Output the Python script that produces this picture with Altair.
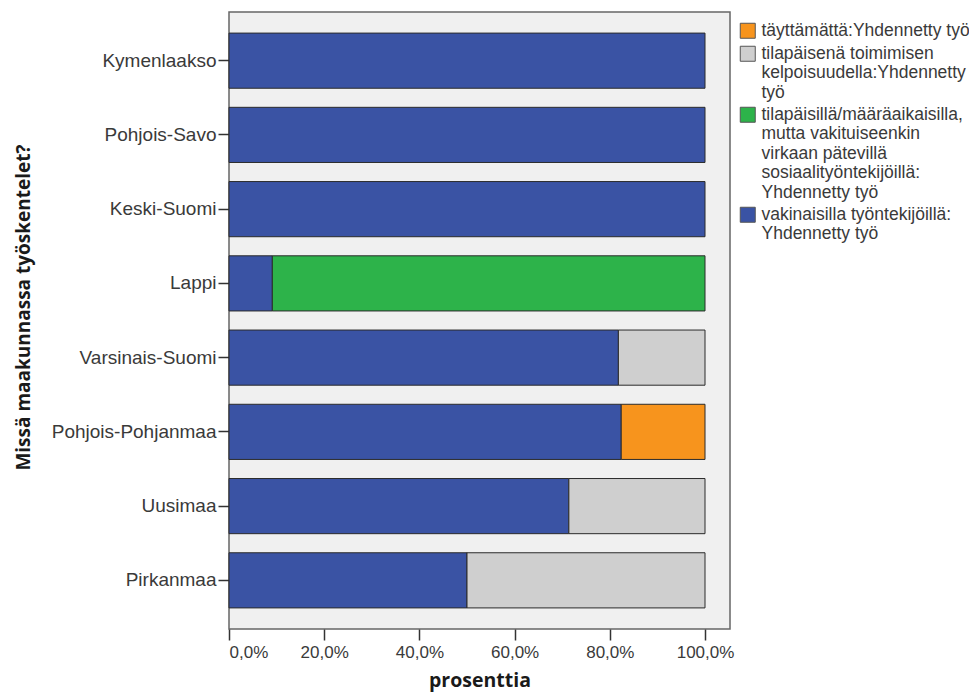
import altair as alt
import pandas as pd

regions = ["Kymenlaakso", "Pohjois-Savo", "Keski-Suomi", "Lappi",
           "Varsinais-Suomi", "Pohjois-Pohjanmaa", "Uusimaa", "Pirkanmaa"]
series = [
    "vakinaisilla työntekijöillä: Yhdennetty työ",
    "tilapäisillä/määräaikaisilla, mutta vakituiseenkin virkaan pätevillä sosiaalityöntekijöillä: Yhdennetty työ",
    "tilapäisenä toimimisen kelpoisuudella:Yhdennetty työ",
    "täyttämättä:Yhdennetty työ",
]
vakinaisilla = [100, 100, 100, 9.1, 81.8, 82.4, 71.4, 50.0]
patevilla = [0, 0, 0, 90.9, 0, 0, 0, 0]
kelpoisuudella = [0, 0, 0, 0, 18.2, 0, 28.6, 50.0]
tayttamatta = [0, 0, 0, 0, 0, 17.6, 0, 0]
colors = ["#3a53a4", "#2db34a", "#cfcfcf", "#f7941d"]
legend_lines = {
    series[3]: ["täyttämättä:Yhdennetty työ"],
    series[2]: ["tilapäisenä toimimisen", "kelpoisuudella:Yhdennetty", "työ"],
    series[1]: ["tilapäisillä/määräaikaisilla,", "mutta vakituiseenkin", "virkaan pätevillä",
                "sosiaalityöntekijöillä:", "Yhdennetty työ"],
    series[0]: ["vakinaisilla työntekijöillä:", "Yhdennetty työ"],
}

rows = []
for i, r in enumerate(regions):
    for k, vals in enumerate([vakinaisilla, patevilla, kelpoisuudella, tayttamatta]):
        if vals[i] > 0:
            rows.append({"region": r, "series": series[k], "value": vals[i], "ord": k})
df = pd.DataFrame(rows)

label_expr = " : ".join(
    [f"datum.label == {repr(s)} ? {legend_lines[s]}" for s in series[:3]]
) + f" : {legend_lines[series[3]]}"

chart = alt.Chart(df).mark_bar(stroke="#2b2b2b", strokeWidth=1).encode(
    y=alt.Y("region:N", sort=regions,
            scale=alt.Scale(paddingInner=0.257, paddingOuter=0.284),
            axis=alt.Axis(title="Missä maakunnassa työskentelet?", titleFont="Open Sans",
                          titleFontSize=19, titleFontWeight="bold", titleColor="#1a1a1a",
                          titleX=-206, titleY=295, titleAngle=270, titleAlign="center",
                          titleBaseline="middle",
                          labelFont="Liberation Sans", labelFontSize=19, labelColor="#3a3a3a",
                          tickColor="#333", tickSize=11, tickWidth=1.5, domain=False,
                          labelPadding=2)),
    x=alt.X("value:Q", stack="zero",
            scale=alt.Scale(domain=[0, 105.25], nice=False),
            axis=alt.Axis(title="prosenttia", values=[0, 20, 40, 60, 80, 100],
                          labelExpr="replace(format(datum.value, '.1f'), '.', ',') + '%'",
                          grid=False, titleFont="Open Sans", titleFontSize=19.5,
                          titleFontWeight="bold", titleColor="#1a1a1a",
                          titleY=51, titleBaseline="middle",
                          labelFont="Liberation Sans", labelFontSize=17, labelColor="#3a3a3a",
                          tickColor="#333", tickSize=11, tickWidth=1.5, domain=False,
                          labelPadding=4)),
    color=alt.Color("series:N",
                    scale=alt.Scale(domain=series, range=colors),
                    sort=series[::-1],
                    legend=alt.Legend(title=None, orient="none", legendX=510, legendY=10,
                                      padding=0,
                                      symbolType="square", symbolSize=225,
                                      symbolStrokeColor="#555", symbolStrokeWidth=1,
                                      symbolOpacity=1,
                                      labelFont="Liberation Sans", labelFontSize=17.5,
                                      labelColor="#3a3a3a", labelLimit=400, labelOffset=5,
                                      labelExpr=label_expr, rowPadding=3,
                                      values=series[::-1])),
    order=alt.Order("ord:Q"),
).properties(
    width=501, height=617,
    autosize=alt.AutoSizeParams(type="none"),
    padding={"left": 221, "top": 4, "right": 239, "bottom": 65},
    background="white",
).configure_view(
    fill="#f0f0f0", stroke="#666666", strokeWidth=1.5
)

chart.save("out.html", embed_options={"renderer": "svg", "actions": False})
